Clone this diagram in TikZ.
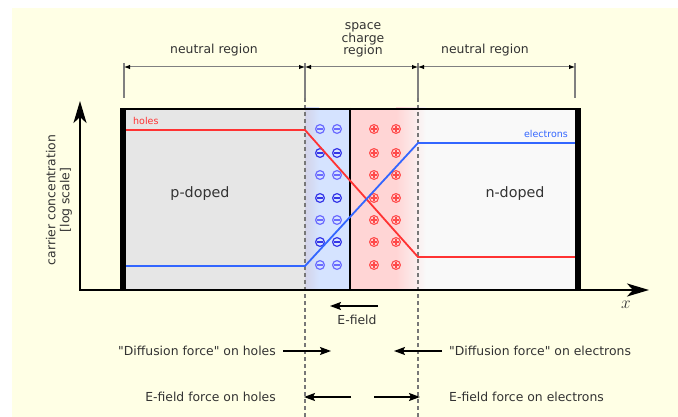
\documentclass[tikz,border=0pt]{standalone}
\usepackage{fontspec}
\setmainfont{DejaVu Sans}
\usetikzlibrary{arrows.meta}
\definecolor{cream}{HTML}{FFFFE5}
\definecolor{pgray}{HTML}{E6E6E6}
\definecolor{nwhite}{HTML}{F9F9F9}
\definecolor{sblue}{HTML}{D5E3FF}
\definecolor{sred}{HTML}{FFD5D5}
\definecolor{holered}{HTML}{FF3333}
\definecolor{elblue}{HTML}{3366FF}
\definecolor{txt}{HTML}{333333}
\definecolor{minusl}{HTML}{6A6AFF}
\definecolor{minusd}{HTML}{3535E8}
\definecolor{plusc}{HTML}{FF4A4A}
\definecolor{dimgray}{HTML}{808080}
\definecolor{dashgray}{HTML}{777777}
\tikzset{
  lbl/.style={text=txt,font=\fontsize{12.4}{13}\selectfont,inner sep=0pt,anchor=base},
  big/.style={text=txt,font=\fontsize{14.3}{15}\selectfont,inner sep=0pt,anchor=base},
  small/.style={font=\fontsize{9.5}{10}\selectfont,inner sep=0pt,anchor=base},
  dimtick/.style={dimgray,line width=1.3pt},
  dimline/.style={dimgray,line width=1pt,{Latex[length=6pt,width=4.5pt,black]}-{Latex[length=6pt,width=4.5pt,black]}},
  sep/.style={dashgray,line width=1.2pt,dash pattern=on 4pt off 3pt},
  force/.style={black,line width=1.6pt,-{Stealth[length=11pt,width=8pt,inset=2pt]}},
  curve/.style={line width=1.8pt,line join=miter},
}
\begin{document}
\begin{tikzpicture}[x=1pt,y=-1pt]
\useasboundingbox (0,0) rectangle (678,417);
\fill[white] (0,0) rectangle (678,417);
\fill[cream] (12,8) rectangle (678,417);
% region fills
\fill[pgray] (123,108) rectangle (305,290);
\fill[sblue] (305,108) rectangle (350,290);
\shade[left color=blue!8!pgray, right color=sblue] (305,108) rectangle (319,290);
\fill[nwhite] (418,108) rectangle (578,290);
\fill[sred] (350,108) rectangle (396,290);
\shade[left color=sred, right color=nwhite] (396,108) rectangle (426,290);
% divider
\draw[line width=1.5pt] (350,108) -- (350,290);
% charges
\foreach \y [count=\i] in {129,153,175,198,220,242,265} {
  \ifodd\i \def\mc{minusl}\else \def\mc{minusd}\fi
  \foreach \x in {320,337} {
    \draw[\mc,line width=1.2pt] (\x,\y) circle (4.4pt);
    \draw[\mc,line width=1.2pt] (\x-3,\y) -- (\x+3,\y);
  }
  \foreach \x in {374,396} {
    \draw[plusc,line width=1.1pt] (\x,\y) circle (4.4pt);
    \draw[plusc,line width=1.1pt] (\x-3.2,\y) -- (\x+3.2,\y) (\x,\y-3.2) -- (\x,\y+3.2);
  }
}
% separators
\draw[sep] (305,98) -- (305,417);
\draw[sep] (418,98) -- (418,417);
% carrier curves
\coordinate (h0) at (125,130); \coordinate (h1) at (305,130);
\coordinate (h2) at (418,257); \coordinate (h3) at (576,257);
\coordinate (e0) at (125,266); \coordinate (e1) at (305,266);
\coordinate (e2) at (418,143); \coordinate (e3) at (576,143);
\draw[curve,holered] (h0) -- (h1) -- (h2) -- (h3);
\draw[curve,elblue] (e0) -- (e1) -- (e2) -- (e3);
% box
\draw[line width=2.5pt] (120,109) -- (581,109);
\fill (120,108) rectangle (126,290);
\fill (575,108) rectangle (581,290);
% axes
\coordinate (ytip) at (80,101);
\coordinate (orig) at (80,290);
\coordinate (xtip) at (649,290);
\draw[line width=2.6pt,line join=miter,{Stealth[length=22pt,width=13pt,inset=6pt]}-{Stealth[length=22pt,width=13pt,inset=6pt]}] (ytip) -- (orig) -- (xtip);
% dimension lines
\coordinate (d1) at (124,67); \coordinate (d2) at (305,67);
\coordinate (d3) at (418,67); \coordinate (d4) at (575,67);
\foreach \x in {124,305,418,575} { \draw[dimtick] (\x,63) -- (\x,98); }
\draw[dimline] (d1) -- (d2);
\draw[dimline] (d2) -- (d3);
\draw[dimline] (d3) -- (d4);
\node[lbl] (nl) at (214,54) {neutral region};
\node[lbl,align=center,anchor=center,font=\fontsize{12.4}{12.6}\selectfont] (scr) at (363,40) {space\\charge\\region};
\node[lbl] (nr) at (485,54) {neutral region};
% region labels
\node[big] (pd) at (200,198) {p-doped};
\node[big] (nd) at (515,198) {n-doped};
\node[small,text=holered,anchor=base west] (hl) at (133,125) {holes};
\node[small,text=elblue,anchor=base east] (el) at (568,138) {electrons};
\node[lbl,anchor=center,align=center,rotate=90,font=\fontsize{12.4}{14}\selectfont] (ylab) at (59,200) {carrier concentration\\{[log scale]}};
\node[text=txt,font=\fontsize{19}{19}\selectfont,inner sep=0pt] (xl) at (626,305) {$x$};
% E-field
\coordinate (ef0) at (378,306); \coordinate (ef1) at (330,306);
\draw[force] (ef0) -- (ef1);
\node[lbl] (efl) at (357,324) {E-field};
% forces
\node[lbl,anchor=base east] (dh) at (276,355) {\textquotedbl Diffusion force\textquotedbl{} on holes};
\node[lbl,anchor=base west] (de) at (449,355) {\textquotedbl Diffusion force\textquotedbl{} on electrons};
\node[lbl,anchor=base east] (fh) at (276,401) {E-field force on holes};
\node[lbl,anchor=base west] (fe) at (449,401) {E-field force on electrons};
\coordinate (a1) at (283,351); \coordinate (a2) at (331,351);
\coordinate (b1) at (442,351); \coordinate (b2) at (394,351);
\coordinate (c1) at (351,397); \coordinate (c2) at (304,397);
\coordinate (g1) at (374,397); \coordinate (g2) at (420,397);
\draw[force] (a1) -- (a2);
\draw[force] (b1) -- (b2);
\draw[force] (c1) -- (c2);
\draw[force] (g1) -- (g2);
\end{tikzpicture}
\end{document}
